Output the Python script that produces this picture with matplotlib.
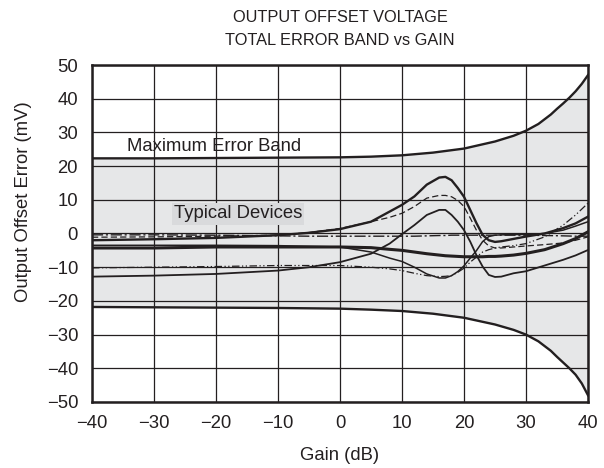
import matplotlib
matplotlib.use("Agg")
import matplotlib.pyplot as plt

plt.rcParams['font.family'] = ['Liberation Sans', 'DejaVu Sans']

# ---- data ----
band_gain = [-40, -30, -20, -10, 0, 5, 10, 15, 20, 25, 28, 30, 32, 34, 35, 36, 37, 38, 39, 40]
band_upper = [22.3, 22.3, 22.4, 22.5, 22.6, 22.8, 23.2, 24.0, 25.2, 27.3, 29.0, 30.5, 32.5, 35.3, 37.0, 38.6, 40.3, 42.2, 44.4, 47.0]
band_lower = [-21.8, -21.9, -22.0, -22.1, -22.3, -22.6, -23.0, -23.8, -25.0, -27.0, -28.6, -30.0, -32.0, -34.8, -36.6, -38.3, -40.0, -41.9, -44.5, -48.0]

gain = [-40, -30, -20, -10, -5, 0, 5, 8, 10, 12, 14, 16, 17, 18, 19, 20, 21, 22, 23, 24, 25, 26, 28, 30, 33, 36, 38, 40]
dev_a = [-2.0, -1.7, -1.3, -0.5, 0.2, 1.3, 3.5, 6.5, 8.5, 11.0, 14.5, 16.6, 16.8, 15.8, 13.5, 10.9, 7.0, 3.1, -0.4, -2.0, -2.5, -2.3, -1.6, -0.9, 0.0, 1.6, 3.0, 5.0]
dev_b = [-1.1, -1.0, -0.8, -0.5, 0.3, 1.5, 3.5, 4.8, 6.0, 8.0, 10.5, 11.3, 11.3, 10.9, 9.8, 8.0, 4.6, 1.0, -2.0, -3.7, -4.3, -4.3, -4.0, -3.7, -3.3, -2.8, -2.0, -1.0]
dev_c = [-12.8, -12.5, -12.0, -11.0, -10.0, -8.5, -6.0, -3.0, -0.2, 2.5, 5.5, 7.0, 7.0, 5.5, 3.5, 1.0, -2.4, -6.4, -9.8, -12.3, -12.9, -12.8, -11.8, -11.2, -9.5, -7.8, -6.5, -4.9]
dev_d = [-4.3, -4.3, -4.0, -4.0, -4.0, -4.0, -4.2, -4.7, -5.0, -5.5, -6.0, -6.4, -6.6, -6.7, -6.8, -6.9, -6.9, -6.9, -6.9, -6.8, -6.8, -6.7, -6.4, -5.9, -4.8, -3.0, -1.5, 0.5]
dev_e = [-3.5, -3.5, -3.5, -3.6, -3.8, -4.0, -5.5, -7.3, -8.3, -10.0, -12.0, -13.2, -13.2, -12.5, -11.3, -9.6, -7.3, -5.1, -2.4, -0.9, -0.5, -0.4, -0.3, -0.3, 0.0, 1.0, 2.2, 3.5]
dev_f = [-10.2, -10.0, -9.8, -9.5, -9.5, -9.5, -10.0, -10.5, -11.0, -11.8, -12.5, -12.8, -12.7, -12.5, -11.5, -10.3, -8.5, -7.0, -5.5, -4.8, -4.3, -4.0, -3.6, -3.0, -1.0, 2.5, 5.5, 9.0]
dev_g = [-0.4, -0.4, -0.5, -0.7, -0.8, -0.8, -0.8, -0.8, -0.8, -0.8, -0.7, -0.6, -0.6, -0.5, -0.5, -0.5, -0.5, -0.5, -0.5, -0.5, -0.5, -0.5, -0.5, -0.5, -0.6, -0.7, -0.8, -0.8]

x_ticks = [-40, -30, -20, -10, 0, 10, 20, 30, 40]
y_ticks = [50, 40, 30, 20, 10, 0, -10, -20, -30, -40, -50]

title_lines = ["OUTPUT OFFSET VOLTAGE", "TOTAL ERROR BAND vs GAIN"]

# ---- figure ----
ink = '#231f20'
W, H = 604, 468
fig = plt.figure(figsize=(W/100, H/100), dpi=100)
ax = fig.add_axes([92/W, 1 - 402/H, (588 - 92)/W, (402 - 65)/H])

ax.fill_between(band_gain, band_lower, band_upper, color='#e6e7e8', zorder=0.5, lw=0)
ax.set_xlim(-40, 40)
ax.set_ylim(-50, 50)
ax.set_xticks(x_ticks)
ax.set_yticks(y_ticks)
ax.grid(True, color=ink, lw=0.9, zorder=1)
ax.set_axisbelow(False)
ax.tick_params(axis='both', length=0, labelsize=13.3, colors=ink)
ax.tick_params(axis='x', pad=9)
ax.tick_params(axis='y', pad=10)
for s in ax.spines.values():
    s.set_linewidth(1.8)
    s.set_color(ink)
    s.set_zorder(5)

ax.plot(band_gain, band_upper, color=ink, lw=1.7, zorder=3)
ax.plot(band_gain, band_lower, color=ink, lw=1.7, zorder=3)

ax.plot(gain, dev_a, color=ink, lw=1.7, zorder=3)
ax.plot(gain, dev_b, color=ink, lw=0.9, ls=(0, (5, 2.5)), zorder=3)
ax.plot(gain, dev_c, color=ink, lw=1.3, zorder=3)
ax.plot(gain, dev_d, color=ink, lw=2.2, zorder=3)
ax.plot(gain, dev_e, color=ink, lw=1.1, zorder=3)
ax.plot(gain, dev_f, color=ink, lw=0.9, ls=(0, (6, 2, 1, 2, 1, 2)), zorder=3)
ax.plot(gain, dev_g, color=ink, lw=1.0, ls=(0, (8, 2, 1.5, 2)), zorder=3)

ax.text(-34.4, 25.8, "Maximum Error Band", fontsize=13.3, color=ink, va='center', ha='left', zorder=4)
ax.text(-26.8, 5.8, "Typical Devices", fontsize=13.3, color=ink, va='center', ha='left', zorder=4,
        bbox=dict(boxstyle='square,pad=0.12', fc='#d9dadc', ec='none'))

fig.text(340/W, 1 - 455/H, "Gain (dB)", fontsize=13.3, color=ink, ha='center', va='center')
fig.text(24/W, 1 - 202/H, "Output Offset Error (mV)", fontsize=13.3, color=ink,
         ha='center', va='center', rotation=90)

fig.text(340/W, 1 - 18/H, title_lines[0], fontsize=11.8, color=ink, ha='center', va='center')
fig.text(340/W, 1 - 40.5/H, title_lines[1], fontsize=11.8, color=ink, ha='center', va='center')

fig.savefig("out.png", dpi=100)
